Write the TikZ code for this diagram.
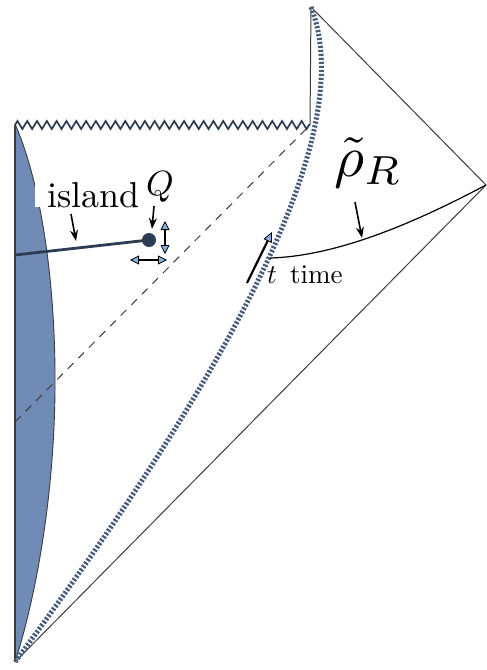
\RequirePackage{fix-cm}
\documentclass[tikz,border=0pt]{standalone}
\usetikzlibrary{arrows.meta,decorations.pathmorphing}
\definecolor{islandfill}{RGB}{112,139,182}
\definecolor{curveblue}{RGB}{72,92,124}
\definecolor{darkslate}{RGB}{45,60,82}
\definecolor{tipblue}{RGB}{135,175,230}
\definecolor{edgegray}{RGB}{60,60,60}
\begin{document}
\begin{tikzpicture}[x=1pt,y=-1pt,
  edge/.style={draw=edgegray, line width=1pt},
  pointer/.style={line width=1.6pt, -{Stealth[length=11pt,width=8pt]}},
  bluetips/.style={line width=1.4pt, {Triangle[fill=tipblue,length=9pt,width=9pt,line width=0.8pt]}-{Triangle[fill=tipblue,length=9pt,width=9pt,line width=0.8pt]}},
  timearrow/.style={line width=2.2pt, -{Triangle[fill=tipblue,length=10pt,width=9pt,line width=0.8pt]}},
  lbl/.style={anchor=base west, inner sep=0pt, font=\normalsize}
]
\useasboundingbox (0,0) rectangle (487,670);
% corners
\coordinate (B) at (15,662);
\coordinate (TL) at (15,125);
\coordinate (TM) at (310,125);
\coordinate (T) at (311,7);
\coordinate (R) at (486,185);
\coordinate (D) at (15,422);
% island region
\fill[islandfill] (15,124) .. controls (40,180) and (56,280) .. (55,390)
  .. controls (54,500) and (35,600) .. (B) -- cycle;
\draw[edgegray, line width=0.9pt] (15,124) .. controls (40,180) and (56,280) .. (55,390)
  .. controls (54,500) and (35,600) .. (B);
\draw[edgegray, line width=1.6pt] (TL) -- (B);
% singularity
\draw[darkslate, line width=1.7pt, decorate,
  decoration={zigzag, segment length=9.8pt, amplitude=4pt}] (TL) -- (TM);
% boundaries
\draw[edge] (TM) -- (T) -- (R) -- (B);
\draw[edgegray, line width=1pt, dash pattern=on 8pt off 7pt] (D) -- (TM);
% dotted curve
\draw[curveblue, line width=5pt, dash pattern=on 2.2pt off 1.8pt]
  (T) .. controls (355,120) and (260,330) .. (B);
% rho curve
\coordinate (S) at (270,258);
\draw[black, line width=1.2pt] (S) .. controls (340,256) and (420,220) .. (R);
% island line and Q dot
\coordinate (IL) at (15,255);
\node[circle, fill=darkslate, minimum size=14pt, inner sep=0pt] (Qdot) at (149,240) {};
\draw[darkslate, line width=2.8pt] (IL) -- (Qdot.center);
% labels
\node[lbl, fill=white, text height=29pt, text depth=0pt] (island) at (35,207) {\hspace{12pt}\scalebox{3.6}{island}};
\node[lbl] (Q) at (146,195) {\scalebox{3.5}{$Q$}};
\node[lbl] (rho) at (334,176) {\scalebox{5.8}{$\tilde\rho_R$}};
\node[lbl] (t) at (267,283) {\scalebox{2.7}{$t$}};
\node[lbl] (time) at (290,283) {\scalebox{2.7}{time}};
% pointers
\coordinate (a1) at (71,214); \coordinate (a2) at (76,241);
\draw[pointer] (a1) -- (a2);
\coordinate (q1) at (154,206); \coordinate (q2) at (152,229);
\draw[pointer] (q1) -- (q2);
\coordinate (r1) at (355,202); \coordinate (r2) at (362,238);
\draw[pointer] (r1) -- (r2);
\coordinate (t1) at (247,283); \coordinate (t2) at (272,232);
\draw[timearrow] (t1) -- (t2);
% small arrows
\coordinate (v1) at (165,221); \coordinate (v2) at (165,254);
\draw[bluetips] (v1) -- (v2);
\coordinate (h1) at (130,260); \coordinate (h2) at (167,260);
\draw[bluetips] (h1) -- (h2);
\end{tikzpicture}
\end{document}
